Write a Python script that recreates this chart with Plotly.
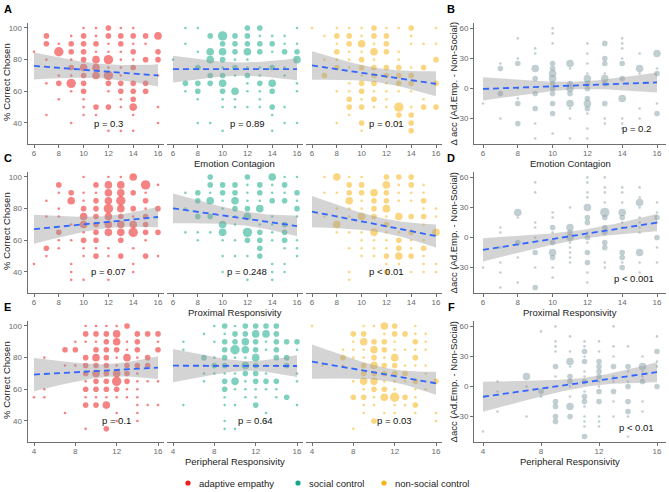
import math
import plotly.graph_objects as go

W, H = 669, 492

# ---------------- data ----------------
GROUPS = ["adaptive empathy", "social control", "non-social control"]
GROUP_COLORS = ["#EE1C1C", "#12A88A", "#F5B318"]
DIFF_COLOR = "#93A9B0"

X_TITLES = ["Emotion Contagion", "Proximal Responsivity", "Peripheral Responsivity"]
Y_TITLE_LEFT = "% Correct Chosen"
Y_TITLES_RIGHT = ["Δ acc (Ad.Emp. - Non-Social)", "Δacc (Ad.Emp. - Non-Social)", "Δacc (Ad.Emp. - Non-Social)"]
PANEL_LABELS = [["A", "B"], ["C", "D"], ["E", "F"]]
X_TICKS = [[6, 8, 10, 12, 14, 16], [6, 8, 10, 12, 14, 16], [4, 8, 12, 16]]
Y_TICKS_LEFT = [40, 60, 80, 100]
Y_TICKS_RIGHT = [-30, 0, 30, 60]

# score : "value:count ..."  (count = number of participants at that point)
A_EMP = {6: "85:1", 7: "95:2 90:2 80:1 65:1 45:1", 8: "90:1 85:4 70:1 65:2 55:1",
         9: "95:1 90:2 85:2 80:1 75:2 70:1 65:4 60:1 40:1",
         10: "100:1 95:2 90:2 85:2 80:2 75:3 70:2 65:2 60:2 55:1 50:1 45:1",
         11: "100:1 95:1 90:2 85:1 80:3 75:3 70:3 50:2 45:1",
         12: "100:2 95:2 90:1 85:1 80:4 75:1 70:4 65:2 60:1 50:2 35:1",
         13: "100:1 95:2 90:2 85:1 80:1 75:1 70:1 65:2 60:2 55:1 50:1 35:1",
         14: "100:1 95:2 90:1 85:2 80:1 75:2 65:2 60:2 55:2 50:3 45:1 35:1",
         15: "95:2 90:1 80:2 65:2 60:2", 16: "95:3 85:2 80:2 70:1 50:1 40:1"}
A_SOC = {6: "80:1", 7: "100:1 90:1 65:2 60:1", 8: "100:1 85:1 75:2 65:2 60:2 55:1 40:1",
         9: "95:2 85:3 80:3 70:2 65:2 40:1",
         10: "95:4 90:2 85:3 80:2 75:1 70:2 65:3 60:2 55:1 50:1 35:1",
         11: "95:2 90:2 85:2 80:1 75:2 70:1 60:3 55:1 50:1",
         12: "100:2 95:2 90:2 85:3 80:1 75:1 70:2 65:1 60:1 50:1",
         13: "100:2 95:1 90:2 85:2 75:1 70:1 65:2 60:1 55:1 50:1",
         14: "95:1 90:2 85:1 75:2 65:3 60:2 50:2 45:1 35:1",
         15: "95:1 90:1 85:2 75:1 70:1 50:1 40:1", 16: "100:1 90:1 85:2 80:3 65:1 60:1 40:1"}
A_NON = {6: "100:1", 7: "95:1 80:1 75:1 70:2", 8: "100:1 95:2 90:1 85:2 80:1 75:2 60:1 40:1",
         9: "100:1 95:2 90:2 85:1 80:1 75:1 65:1 60:1 55:2 50:2 45:1",
         10: "100:1 95:1 90:3 85:1 80:2 75:2 70:1 65:2 60:2 55:1 50:2 40:2 35:1",
         11: "100:2 95:2 90:1 85:3 80:1 75:2 70:2 65:2 60:1 55:2 50:1",
         12: "100:1 95:2 90:2 85:2 75:2 70:2 65:1 60:1 55:1 50:1 40:1",
         13: "100:1 85:1 80:1 75:2 70:2 65:2 60:1 50:4 45:2 40:1",
         14: "100:2 95:1 90:1 75:1 70:2 65:2 60:1 50:1 45:2 40:2 35:2",
         15: "90:1 75:2 55:1 50:2", 16: "100:1 90:1 80:2 65:2 50:2"}
B_DIFF = {6: "-15:1", 7: "25:1 20:2 -5:2 -30:1", 8: "50:1 30:1 25:2 0:1 -10:1 -15:2 -35:2",
          9: "40:1 35:1 20:3 10:2 -5:2 -20:2 -35:1 -50:1",
          10: "60:1 55:1 45:1 25:2 20:2 15:3 10:3 5:2 0:2 -5:2 -15:2 -25:2 -45:1",
          11: "25:3 20:1 5:2 0:3 -5:2 -15:3 -20:1 -30:1 -50:1",
          12: "45:1 35:1 25:1 15:1 10:3 5:2 0:2 -10:2 -15:3 -20:2 -25:1 -40:1 -50:1",
          13: "45:2 30:2 25:2 15:1 10:3 5:2 -15:2 -30:1 -35:1",
          14: "50:1 45:1 40:1 30:1 25:2 10:2 -10:3 -30:1 -35:1 -40:1",
          15: "35:1 20:3 15:1 -20:1 -30:1", 16: "35:3 20:1 15:2 -15:1 -25:2"}
C_EMP = {6: "45:1", 7: "85:1 75:1 55:2 50:1", 8: "95:2 90:1 80:1 75:1 65:2 60:1 55:1",
         9: "90:2 85:3 70:1 60:1 45:1 40:1 35:1",
         10: "100:1 90:1 85:1 80:2 75:3 70:3 65:1 60:2 55:1 50:1 35:1",
         11: "95:2 90:1 85:2 80:2 75:2 70:2 65:2 60:2 55:1 50:2",
         12: "100:1 95:3 90:3 85:3 80:4 75:3 70:3 65:3 55:1 50:1 40:1 35:1",
         13: "100:1 95:3 90:3 85:4 80:3 75:2 70:3 65:3 60:2 50:2",
         14: "100:3 90:2 80:2 75:1 70:3 65:4 55:1 45:1 40:1",
         15: "95:4 90:1 85:2 80:1 75:2 70:2 65:2 60:1 50:2", 16: "95:1 80:2 65:2 50:1"}
C_SOC = {7: "90:1 80:1 65:1", 8: "90:2 85:2 75:2 65:1 60:1", 9: "100:2 95:2 90:1 85:3 75:2 65:1",
         10: "95:2 90:2 85:1 80:1 70:3 65:3 60:1 50:1 40:1",
         11: "95:2 90:2 85:3 80:2 75:1 70:1 60:1 50:1",
         12: "100:2 95:1 90:1 85:1 80:2 75:3 65:4 60:2 50:1 35:1",
         13: "95:2 90:2 85:1 80:3 70:1 65:2 60:2 55:2 50:2",
         14: "100:3 95:1 90:1 85:2 75:1 70:1 65:1 60:1 45:1 40:1 35:1",
         15: "100:1 95:2 90:1 85:2 70:2 65:2 60:2 55:1 45:1 40:1",
         16: "100:1 90:2 85:1 80:2 75:1 60:1 55:1 50:1"}
C_NON = {7: "100:1 90:1 75:1", 8: "100:3 90:1 80:1 75:1 70:3 65:1",
         9: "100:1 95:2 90:2 85:3 80:1 75:1 65:1 55:1 40:1 35:1",
         10: "100:1 95:2 90:2 85:1 80:1 75:3 65:1 60:1 55:1 50:1",
         11: "90:3 85:2 80:2 75:2 65:3 60:1 55:1 50:1",
         12: "100:2 95:3 90:2 85:2 80:3 75:1 70:2 65:1 60:1 55:1 50:2 45:1 40:2",
         13: "100:2 95:1 90:1 85:1 75:3 65:1 60:2 55:2 50:3 45:1",
         14: "100:2 95:2 90:1 85:1 75:2 65:2 60:1 55:1 50:2 40:1",
         15: "95:1 90:1 85:2 80:1 75:2 70:1 60:1 55:2 50:1 45:1 40:1",
         16: "80:1 75:1 65:3 45:1 40:1"}
D_DIFF = {6: "-30:1", 7: "10:1 5:1 -10:1 -25:1 -35:1 -50:1", 8: "25:3 20:1 -5:2 -20:1 -45:1",
          9: "55:1 45:1 15:1 10:1 0:1 -15:2 -30:1 -50:2",
          10: "25:1 20:1 10:2 5:1 -5:2 -15:3 -20:2 -30:1 -40:1",
          11: "30:1 10:3 5:2 0:3 -5:1 -10:1 -15:1 -20:1 -25:1",
          12: "60:1 55:1 45:1 40:1 30:3 20:2 15:2 5:1 0:2 -5:1 -15:2 -25:2 -35:1 -45:1",
          13: "60:1 50:1 45:1 35:1 25:4 20:2 10:2 5:2 -5:2 -10:2 -25:1 -30:1",
          14: "50:1 45:1 35:1 25:3 20:2 15:1 10:1 -15:2 -20:2 -25:1 -30:2",
          15: "50:1 40:1 35:3 30:1 20:1 15:1 10:1 5:1 -15:3 -25:1 -35:1",
          16: "35:1 25:1 20:2 15:1 0:2 -10:1 -25:1"}
E_EMP = {4: "55:1", 5: "80:1 60:1 55:1", 7: "85:2 75:1 45:1", 8: "90:1 85:2 75:1",
         9: "100:1 95:2 90:1 80:2 75:2 70:2 65:1 60:2 55:1 50:2 35:1",
         10: "100:1 95:2 90:1 85:2 80:3 75:2 70:3 65:2 60:2 55:1 50:2",
         11: "100:1 95:2 90:2 85:2 80:2 75:2 70:2 65:2 60:2 55:1 50:3 35:2",
         12: "100:1 95:3 90:3 85:2 80:1 75:1 70:3 65:4 60:2 55:1 45:1 40:1",
         13: "100:2 90:1 85:1 80:3 75:2 70:2 65:2 60:1 55:1",
         14: "95:2 90:2 85:2 80:1 75:2 70:1 65:1 60:1 55:1 50:1 45:1 40:1",
         15: "95:2 80:2 75:2 65:1 50:1", 16: "95:2 90:1 85:2 65:1 50:1"}
E_SOC = {5: "90:1 85:1 50:1", 7: "95:1 80:2 75:1 70:1 65:1", 8: "100:1 90:1 80:1 75:2 70:1",
         9: "100:2 95:1 90:2 85:2 80:2 75:2 70:1 65:2 60:2 55:1 50:1 40:1 35:1",
         10: "100:1 95:2 90:2 85:4 80:1 75:1 70:1 65:3 60:1 50:1 35:1",
         11: "100:2 95:2 90:3 85:3 80:1 75:3 70:2 65:1 60:1 55:1",
         12: "100:2 95:3 90:2 85:2 80:3 75:2 70:2 65:2 60:1 55:1 50:2",
         13: "100:2 95:3 90:1 85:1 75:1 70:1 65:2 60:1 45:1 40:1",
         14: "100:2 95:2 90:2 85:2 80:2 75:1 65:2 60:1 55:1",
         15: "90:2 80:2 75:2 55:2", 16: "90:2 85:1 70:1 65:1 50:1"}
E_NON = {4: "100:1", 5: "75:1", 7: "85:1 80:2 75:1", 8: "95:2 90:1 85:1 80:1 65:1 55:2 35:1",
         9: "100:1 95:2 90:3 85:1 80:1 75:2 70:2 65:3 60:1 55:2 50:1 45:1",
         10: "100:1 90:2 85:3 80:2 75:3 70:2 65:3 60:2 55:1 50:1 40:2",
         11: "100:3 95:1 90:2 85:2 80:1 75:2 70:2 65:1 60:2 55:3 45:1",
         12: "100:2 95:2 90:1 85:1 80:3 75:2 70:2 65:1 60:1 55:4 50:1 45:1",
         13: "95:2 85:1 75:1 70:2 65:1 55:2 50:1",
         14: "100:1 95:1 90:2 85:1 80:2 75:1 65:2 60:1 55:1 50:2 45:1",
         15: "95:1 90:1 85:1 75:1 70:1 60:1", 16: "65:2 45:1 40:1"}
F_DIFF = {4: "-45:1", 5: "5:1 -5:1 -25:1", 7: "10:3 0:1 -30:1", 8: "55:1 -5:2 -10:1",
          9: "60:1 45:1 40:1 35:1 20:2 10:1 -15:2 -20:2 -30:2 -35:2",
          10: "50:1 35:1 25:3 20:1 10:2 5:2 0:1 -10:1 -20:3 -30:2",
          11: "45:1 40:1 35:2 30:1 25:2 15:1 10:1 5:2 -5:1 -10:2 -15:2 -20:1 -30:1 -35:1 -40:1 -50:2",
          12: "45:1 35:1 25:2 20:2 15:2 10:2 5:1 0:1 -5:2 -15:2 -30:1 -35:1 -40:1",
          13: "60:1 40:1 30:1 20:2 10:1 5:1 -5:2 -15:1 -30:1",
          14: "40:1 20:2 15:1 5:1 0:2 -15:2 -25:2 -30:1 -50:1",
          15: "30:1 20:3 15:1 10:1 5:2 -15:1 -25:1", 16: "50:1 35:2 25:1 20:1 0:2"}

ROW_DATA = [[A_EMP, A_SOC, A_NON, B_DIFF], [C_EMP, C_SOC, C_NON, D_DIFF], [E_EMP, E_SOC, E_NON, F_DIFF]]

# linear fit: (x start, x end, y start, y end, CI half-width at start, minimum, end)
ROW_FITS = [
    [(6, 16, 76.0, 70.0, 8.5, 4.5, 7.0), (6, 16, 74.0, 74.0, 8.5, 4.2, 7.0),
     (6, 16, 76.3, 64.7, 9.0, 4.5, 7.9), (6, 16, -0.5, 6.0, 11.6, 3.8, 10.0)],
    [(6, 16, 67.0, 74.7, 9.2, 3.8, 6.5), (6, 16, 80.2, 69.0, 9.4, 4.4, 6.5),
     (6, 16, 78.1, 62.7, 9.8, 4.5, 7.2), (6, 16, -12.4, 14.8, 11.6, 4.5, 8.6)],
    [(4, 16, 69.3, 73.7, 10.5, 4.0, 7.2), (4, 16, 74.9, 74.7, 10.5, 3.0, 6.9),
     (4, 16, 77.5, 63.8, 10.8, 4.0, 7.2), (4, 16, -10.3, 14.3, 15.0, 4.5, 10.0)],
]
ROW_PVALS = [["p = 0.3", "p = 0.89", "p = 0.01", "p = 0.2"],
             ["p = 0.07", "p = 0.248", "p < 0.01", "p < 0.001"],
             ["p = 0.1", "p = 0.64", "p = 0.03", "p < 0.01"]]
ROW_PPOS = [[(12, 39.5), (12, 39.5), (12, 39.5), (14.8, -40.3)],
            [(12, 40), (12, 40), (12, 40), (14.7, -40.6)],
            [(12, 40), (12, 40), (12, 40), (14.6, -41)]]

# ---------------- layout geometry (pixels) ----------------
COL_PX = [(27.8, 164.2), (166.8, 303.2), (305.8, 442.2), (474.3, 665.7)]
ROW_PX = [(22.9, 144.0), (171.9, 293.0), (320.9, 442.0)]
X_RANGES = [[5.5, 16.5], [5.5, 16.5], [3.4, 16.6]]
Y_RANGE_LEFT = [26.7, 103.2]
Y_RANGE_RIGHT = [-55.5, 65.5]
SIZE_PX = {1: 2.6, 2: 5.6, 3: 7.6, 4: 9.4}

FONT = "Liberation Sans"
AX_COLOR = "#6f6f6f"
TICK_FONT = dict(family=FONT, size=8, color="#6a6a6a")
TITLE_FONT = dict(family=FONT, size=9.5, color="#222222")


def px_x(p):
    return p / W


def px_y(p):
    return 1 - p / H


def parse(cols):
    xs, ys, ns = [], [], []
    for x, s in cols.items():
        for tok in s.split():
            y, n = tok.split(":")
            xs.append(x)
            ys.append(float(y))
            ns.append(int(n))
    return xs, ys, ns


def band(fit, npts=60):
    x0, x1, y0, y1, hl, hm, hr = fit
    slope = (y1 - y0) / (x1 - x0)
    r = math.sqrt((hl ** 2 - hm ** 2) / (hr ** 2 - hm ** 2))
    xm = (x0 + r * x1) / (1 + r)
    k = (hl ** 2 - hm ** 2) / (xm - x0) ** 2
    xs = [x0 + (x1 - x0) * i / (npts - 1) for i in range(npts)]
    yc = [y0 + slope * (x - x0) for x in xs]
    h = [math.sqrt(hm ** 2 + k * (x - xm) ** 2) for x in xs]
    up = [cc + d for cc, d in zip(yc, h)]
    lo = [cc - d for cc, d in zip(yc, h)]
    return xs + xs[::-1], up + lo[::-1]


def rgba(hexc, a):
    hexc = hexc.lstrip("#")
    r, g, b = int(hexc[0:2], 16), int(hexc[2:4], 16), int(hexc[4:6], 16)
    return f"rgba({r},{g},{b},{a})"


fig = go.Figure()
layout = dict(width=W, height=H, margin=dict(l=0, r=0, t=0, b=0, autoexpand=False),
              paper_bgcolor="white", plot_bgcolor="white", showlegend=False,
              font=dict(family=FONT))
annotations = []
shapes = []

for r in range(3):
    for c in range(4):
        n = r * 4 + c + 1
        xa = "x" if n == 1 else f"x{n}"
        ya = "y" if n == 1 else f"y{n}"
        xk = "xaxis" if n == 1 else f"xaxis{n}"
        yk = "yaxis" if n == 1 else f"yaxis{n}"
        right = (c == 3)
        color = DIFF_COLOR if right else GROUP_COLORS[c]
        alpha = 0.82 if right else 0.78

        xs, ys, ns = parse(ROW_DATA[r][c])
        fig.add_trace(go.Scatter(x=xs, y=ys, mode="markers", xaxis=xa, yaxis=ya,
                                 marker=dict(size=[SIZE_PX[v] for v in ns], color=rgba(color, alpha),
                                             line=dict(width=0)),
                                 hoverinfo="skip"))
        fit = ROW_FITS[r][c]
        bx, by = band(fit)
        fig.add_trace(go.Scatter(x=bx, y=by, mode="lines", fill="toself", xaxis=xa, yaxis=ya,
                                 fillcolor="rgba(153,153,153,0.42)", line=dict(width=0),
                                 hoverinfo="skip"))
        fig.add_trace(go.Scatter(x=[fit[0], fit[1]], y=[fit[2], fit[3]], mode="lines",
                                 xaxis=xa, yaxis=ya,
                                 line=dict(color="#3366FF", width=1.8, dash="6px,4px"),
                                 hoverinfo="skip"))

        x0p, x1p = COL_PX[c]
        y0p, y1p = ROW_PX[r]
        layout[xk] = dict(domain=[px_x(x0p), px_x(x1p)], range=X_RANGES[r], anchor=ya,
                          tickvals=X_TICKS[r], showline=True, linecolor=AX_COLOR, linewidth=1.2,
                          ticks="outside", ticklen=3, tickcolor=AX_COLOR, tickwidth=1,
                          ticklabelstandoff=-2,
                          tickfont=TICK_FONT, showgrid=False, zeroline=False, fixedrange=True)
        show_y = (c == 0) or right
        layout[yk] = dict(domain=[px_y(y1p), px_y(y0p)],
                          range=Y_RANGE_RIGHT if right else Y_RANGE_LEFT, anchor=xa,
                          tickvals=Y_TICKS_RIGHT if right else Y_TICKS_LEFT,
                          showline=show_y, linecolor=AX_COLOR, linewidth=1.2,
                          ticks="outside" if show_y else "", ticklen=3, tickcolor=AX_COLOR,
                          showticklabels=show_y, tickfont=TICK_FONT,
                          showgrid=False, zeroline=False, fixedrange=True)

        px_, py_ = ROW_PPOS[r][c]
        annotations.append(dict(x=px_, y=py_, xref=xa, yref=ya, text=ROW_PVALS[r][c],
                                showarrow=False, font=dict(family=FONT, size=9.5, color="#111111"),
                                xanchor="center", yanchor="middle"))

    # axis titles
    y0p, y1p = ROW_PX[r]
    ymid = (y0p + y1p) / 2
    for cx in (235, 570):
        annotations.append(dict(x=px_x(cx), y=px_y(y1p + 19), xref="paper", yref="paper",
                                text=X_TITLES[r], showarrow=False, font=TITLE_FONT,
                                xanchor="center", yanchor="middle"))
    annotations.append(dict(x=px_x(6.5), y=px_y(ymid - 1), xref="paper", yref="paper",
                            text=Y_TITLE_LEFT, textangle=-90, showarrow=False, font=TITLE_FONT,
                            xanchor="center", yanchor="middle"))
    annotations.append(dict(x=px_x(453), y=px_y(ymid), xref="paper", yref="paper",
                            text=Y_TITLES_RIGHT[r], textangle=-90, showarrow=False, font=TITLE_FONT,
                            xanchor="center", yanchor="middle"))
    # panel labels
    for lab, lx in zip(PANEL_LABELS[r], (7.5, 451.5)):
        annotations.append(dict(x=px_x(lx), y=px_y(y0p - 13.5), xref="paper", yref="paper",
                                text=f"<b>{lab}</b>", showarrow=False,
                                font=dict(family=FONT, size=11, color="black"),
                                xanchor="center", yanchor="middle"))

# legend (drawn manually, ggplot-like)
LEG_DOT_X = [188, 298, 384]
LEG_Y = 483
for gname, gcol, dx in zip(GROUPS, GROUP_COLORS, LEG_DOT_X):
    rd = 2.6
    shapes.append(dict(type="circle", xref="paper", yref="paper",
                       x0=px_x(dx - rd), x1=px_x(dx + rd), y0=px_y(LEG_Y + rd), y1=px_y(LEG_Y - rd),
                       fillcolor=gcol, line=dict(width=0)))
    annotations.append(dict(x=px_x(dx + 9), y=px_y(LEG_Y), xref="paper", yref="paper",
                            text=gname, showarrow=False,
                            font=dict(family=FONT, size=9.5, color="#222222"),
                            xanchor="left", yanchor="middle"))

layout["annotations"] = annotations
layout["shapes"] = shapes
fig.update_layout(**layout)
fig.write_html("out.html", config={"displayModeBar": False, "staticPlot": True},
               post_script="document.body.style.margin='0';document.body.style.padding='0';"
                           "document.body.style.overflow='hidden';")
